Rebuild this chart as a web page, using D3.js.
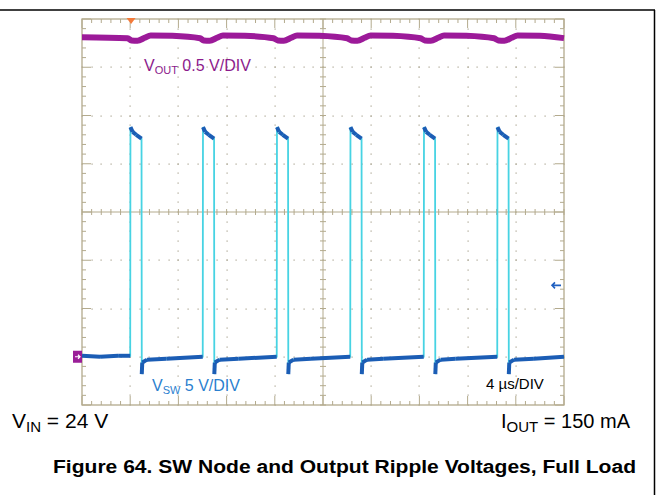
<!DOCTYPE html>
<html>
<head>
<meta charset="utf-8">
<script src="https://cdn.jsdelivr.net/npm/d3@7"></script>
<style>
  body { margin: 0; background: #fff; }
  text { font-family: "Liberation Sans", Arial, sans-serif; }
</style>
</head>
<body>
<div id="container"></div>
<script>
// switch node trace, time in us, volts
var swTime = [0.00, 1.50, 3.00, 4.00, 4.02, 4.20, 4.50, 4.94, 4.96, 5.00, 5.40, 7.00,
  10.02, 10.04, 10.22, 10.52, 10.96, 10.98, 11.02, 11.42, 13.00,
  16.16, 16.18, 16.36, 16.66, 17.10, 17.12, 17.16, 17.56, 19.00,
  22.26, 22.28, 22.46, 22.76, 23.20, 23.22, 23.26, 23.66, 25.00,
  28.36, 28.38, 28.56, 28.86, 29.30, 29.32, 29.36, 29.76, 31.00,
  34.46, 34.48, 34.66, 34.96, 35.40, 35.42, 35.46, 35.86, 37.50, 40.00];
var swVolt = [0.1, 0.0, 0.1, 0.1, 23.8, 23.3, 23.0, 22.6, -1.8, -0.6, -0.3, -0.2,
  0.0, 23.8, 23.3, 23.0, 22.6, -1.8, -0.6, -0.3, -0.2,
  0.0, 23.8, 23.3, 23.0, 22.6, -1.8, -0.6, -0.3, -0.2,
  0.0, 23.8, 23.3, 23.0, 22.6, -1.8, -0.6, -0.3, -0.2,
  0.0, 23.8, 23.3, 23.0, 22.6, -1.8, -0.6, -0.3, -0.2,
  0.0, 23.8, 23.3, 23.0, 22.6, -1.8, -0.6, -0.3, -0.2, 0.0];

// output ripple, time in us, mV (ac)
var voutTime = [0.00, 3.80, 4.10, 4.60, 5.20, 5.70, 7.50, 9.80, 10.10, 10.60, 11.20, 11.70, 13.50,
  15.90, 16.25, 16.75, 17.35, 17.85, 19.70, 22.00, 22.35, 22.85, 23.45, 23.95, 25.80,
  28.10, 28.45, 28.95, 29.55, 30.05, 31.90, 34.20, 34.55, 35.05, 35.65, 36.15, 38.00, 40.00];
var voutMv = [12, 0, -22, -25, 5, 30, 26, 0, -22, -25, 5, 30, 26,
  0, -22, -25, 5, 30, 26, 0, -22, -25, 5, 30, 26,
  0, -22, -25, 5, 30, 26, 0, -22, -25, 5, 30, 26, 2];

// scope settings
var timeDiv = 4;        // us/div
var swVoltsDiv = 5;     // V/div
var voutMvDiv = 500;    // mV/div
var swOffset = -3;      // divisions
var voutOffset = 3.6;
var triggerTime = 4.07;
var triggerLevel = 7.4; // V

var labels = ["0.5 V/DIV", "5 V/DIV", "4 \u00b5s/DIV"];
var caption = "Figure 64. SW Node and Output Ripple Voltages, Full Load";

var svg = d3.select("#container")
  .append("svg")
  .attr("width", 656)
  .attr("height", 495);

var pLeft = 82, pRight = 564, pTop = 19, pBottom = 405;
var x = d3.scaleLinear().domain([0, 10 * timeDiv]).range([pLeft, pRight]);
var yDiv = d3.scaleLinear().domain([-4, 4]).range([pBottom, pTop]);
var xDiv = d3.scaleLinear().domain([0, 10]).range([pLeft, pRight]);

var frame = "#b3aa8d";
var dotCol = "#aaa391";

// outer page lines
svg.append("line").attr("x1", 0).attr("y1", 10).attr("x2", 655).attr("y2", 10)
  .attr("stroke", "black").attr("stroke-width", 1.5);
svg.append("line").attr("x1", 654.5).attr("y1", 10).attr("x2", 654.5).attr("y2", 495)
  .attr("stroke", "black").attr("stroke-width", 1.5);

// dotted grid
var g = svg.append("g");
var minorX = d3.range(0, 50.5).map(function(i) { return i / 5; });
var minorY = d3.range(0, 40.5).map(function(i) { return -4 + i / 5; });
[1, 2, 3, 4, 6, 7, 8, 9].forEach(function(c) {
  g.selectAll(null).data(minorY).enter().append("rect")
    .attr("x", Math.round(xDiv(c)) - 0.5).attr("y", function(d) { return Math.round(yDiv(d)) - 0.5; })
    .attr("width", 1.2).attr("height", 1.2).attr("fill", dotCol);
});
[-3, -2, -1, 1, 2, 3].forEach(function(r) {
  g.selectAll(null).data(minorX).enter().append("rect")
    .attr("x", function(d) { return Math.round(xDiv(d)) - 0.5; }).attr("y", Math.round(yDiv(r)) - 0.5)
    .attr("width", 1.2).attr("height", 1.2).attr("fill", dotCol);
});

// centre cross with ticks
g.append("line").attr("x1", pLeft).attr("x2", pRight).attr("y1", yDiv(0)).attr("y2", yDiv(0))
  .attr("stroke", frame).attr("stroke-width", 1);
g.append("line").attr("x1", xDiv(5)).attr("x2", xDiv(5)).attr("y1", pTop).attr("y2", pBottom)
  .attr("stroke", frame).attr("stroke-width", 1);
g.selectAll(null).data(minorX).enter().append("line")
  .attr("x1", function(d) { return xDiv(d); }).attr("x2", function(d) { return xDiv(d); })
  .attr("y1", yDiv(0) - 3).attr("y2", yDiv(0) + 3)
  .attr("stroke", frame).attr("stroke-width", 1);
g.selectAll(null).data(minorY).enter().append("line")
  .attr("y1", function(d) { return yDiv(d); }).attr("y2", function(d) { return yDiv(d); })
  .attr("x1", xDiv(5) - 3).attr("x2", xDiv(5) + 3)
  .attr("stroke", frame).attr("stroke-width", 1);

// border ticks
function isMajor(d) { return Math.abs(d - Math.round(d)) < 0.01; }
g.selectAll(null).data(minorX).enter().append("line")
  .attr("x1", function(d) { return xDiv(d); }).attr("x2", function(d) { return xDiv(d); })
  .attr("y1", pTop).attr("y2", function(d) { return pTop + (isMajor(d) ? 9 : 4); })
  .attr("stroke", frame).attr("stroke-width", 1);
g.selectAll(null).data(minorX).enter().append("line")
  .attr("x1", function(d) { return xDiv(d); }).attr("x2", function(d) { return xDiv(d); })
  .attr("y1", pBottom).attr("y2", function(d) { return pBottom - (isMajor(d) ? 9 : 4); })
  .attr("stroke", frame).attr("stroke-width", 1);
g.selectAll(null).data(minorY).enter().append("line")
  .attr("y1", function(d) { return yDiv(d); }).attr("y2", function(d) { return yDiv(d); })
  .attr("x1", pLeft).attr("x2", function(d) { return pLeft + (isMajor(d) ? 9 : 4); })
  .attr("stroke", frame).attr("stroke-width", 1);
g.selectAll(null).data(minorY).enter().append("line")
  .attr("y1", function(d) { return yDiv(d); }).attr("y2", function(d) { return yDiv(d); })
  .attr("x1", pRight).attr("x2", function(d) { return pRight - (isMajor(d) ? 9 : 4); })
  .attr("stroke", frame).attr("stroke-width", 1);

g.append("rect").attr("x", pLeft).attr("y", pTop).attr("width", pRight - pLeft).attr("height", pBottom - pTop)
  .attr("fill", "none").attr("stroke", frame).attr("stroke-width", 1.3);

// traces
var swData = swTime.map(function(t, i) { return { t: t, v: swVolt[i] }; });
var voutData = voutTime.map(function(t, i) { return { t: t, v: voutMv[i] }; });
var ySw = function(v) { return yDiv(swOffset + v / swVoltsDiv); };
var yVout = function(v) { return yDiv(voutOffset + v / voutMvDiv); };

var swLine = d3.line().x(function(d) { return x(d.t); }).y(function(d) { return ySw(d.v); });
var voutLine = d3.line().x(function(d) { return x(d.t); }).y(function(d) { return yVout(d.v); })
  .curve(d3.curveMonotoneX);

svg.append("path").datum(voutData).attr("d", voutLine)
  .attr("fill", "none").attr("stroke", "#9c1a99").attr("stroke-width", 6);

svg.append("path").datum(swData).attr("d", swLine)
  .attr("fill", "none").attr("stroke", "#47d3e3").attr("stroke-width", 1.8);

// slow parts of the switch node trace in dark blue
var segs = [];
for (var i = 1; i < swData.length; i++) {
  if (swData[i].t - swData[i - 1].t > 0.03) segs.push([swData[i - 1], swData[i]]);
}
svg.selectAll(null).data(segs).enter().append("path")
  .attr("d", swLine)
  .attr("fill", "none").attr("stroke", "#1b5db5").attr("stroke-width", 4)
  .attr("stroke-linecap", "butt");

// markers
svg.append("path")
  .attr("d", "M" + (x(triggerTime) - 4.5) + "," + (pTop - 1) + " L" + (x(triggerTime) + 4.5) + "," + (pTop - 1) +
    " L" + x(triggerTime) + "," + (pTop + 5) + " Z")
  .attr("fill", "#f47a3a");
svg.append("rect").attr("x", pLeft - 9).attr("y", ySw(0) - 6).attr("width", 9).attr("height", 12)
  .attr("fill", "#9a1e98");
svg.append("path")
  .attr("d", "M" + (pLeft - 7) + "," + ySw(0) + " L" + (pLeft - 2) + "," + ySw(0) +
    " M" + (pLeft - 4) + "," + (ySw(0) - 2) + " L" + (pLeft - 2) + "," + ySw(0) + " L" + (pLeft - 4) + "," + (ySw(0) + 2))
  .attr("fill", "none").attr("stroke", "white").attr("stroke-width", 1.2);
svg.append("path")
  .attr("d", "M" + (pRight - 3) + "," + ySw(triggerLevel) + " L" + (pRight - 12) + "," + ySw(triggerLevel) +
    " M" + (pRight - 9) + "," + (ySw(triggerLevel) - 3) + " L" + (pRight - 12) + "," + ySw(triggerLevel) +
    " L" + (pRight - 9) + "," + (ySw(triggerLevel) + 3))
  .attr("fill", "none").attr("stroke", "#2060c0").attr("stroke-width", 1.6);

// labels
var t1 = svg.append("text").attr("x", 144).attr("y", 71).attr("font-size", 16).attr("fill", "#8c1a8c");
t1.append("tspan").text("V");
t1.append("tspan").attr("font-size", 11).attr("dy", 3).text("OUT");
t1.append("tspan").attr("dy", -3).text(" " + labels[0]);

var t2 = svg.append("text").attr("x", 152).attr("y", 391).attr("font-size", 16).attr("fill", "#2b7fcf");
t2.append("tspan").text("V");
t2.append("tspan").attr("font-size", 11).attr("dy", 3).text("SW");
t2.append("tspan").attr("dy", -3).text(" " + labels[1]);

svg.append("text").attr("x", 486).attr("y", 389).attr("font-size", 15).attr("fill", "black").text(labels[2]);

var t3 = svg.append("text").attr("x", 12).attr("y", 428).attr("font-size", 21).attr("fill", "black");
t3.append("tspan").text("V");
t3.append("tspan").attr("font-size", 15).attr("dy", 4).text("IN");
t3.append("tspan").attr("dy", -4).text(" = 24 V");

var t4 = svg.append("text").attr("x", 630).attr("y", 428).attr("font-size", 20).attr("fill", "black")
  .attr("text-anchor", "end");
t4.append("tspan").text("I");
t4.append("tspan").attr("font-size", 15).attr("dy", 4).text("OUT");
t4.append("tspan").attr("dy", -4).text(" = 150 mA");

svg.append("text").attr("x", 636).attr("y", 473).attr("font-size", 18).attr("font-weight", "bold")
  .attr("text-anchor", "end").attr("textLength", 583).attr("lengthAdjust", "spacingAndGlyphs")
  .attr("fill", "black").text(caption);
</script>
</body>
</html>
